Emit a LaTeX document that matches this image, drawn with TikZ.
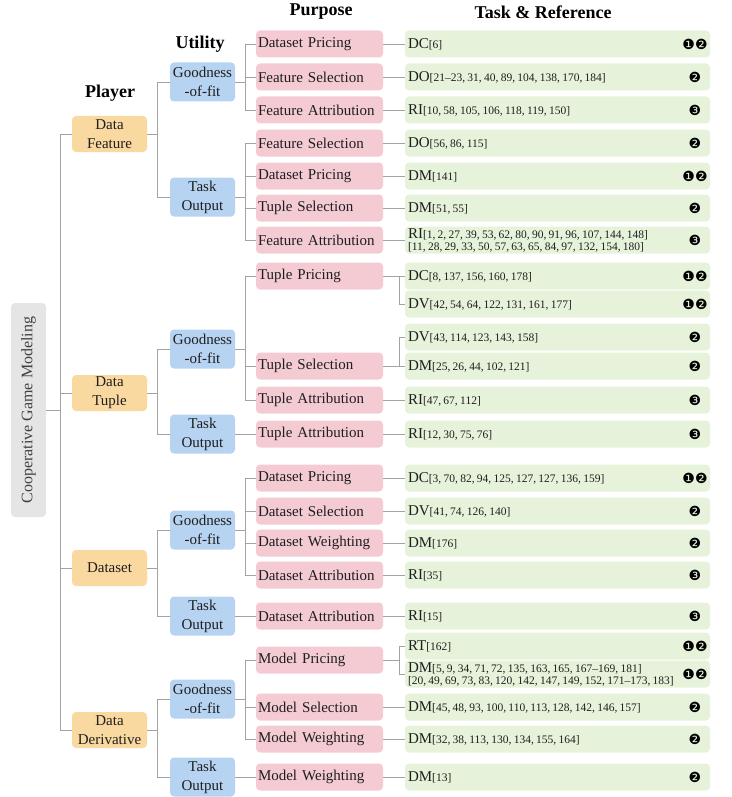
\documentclass[tikz,border=0pt]{standalone}
\usepackage{fontspec}
\setmainfont{Liberation Serif}
\newfontfamily\dingfont{DejaVu Sans}
\usepackage{tikz}
\usetikzlibrary{positioning}
\definecolor{linegray}{HTML}{A3A3A3}
\definecolor{rootfill}{HTML}{E5E5E5}
\definecolor{playerfill}{HTML}{FAD9A1}
\definecolor{utilityfill}{HTML}{B7D3F2}
\definecolor{purposefill}{HTML}{F4CBD3}
\definecolor{taskfill}{HTML}{E6F3DA}
\definecolor{textdark}{HTML}{1E1E1E}
\tikzset{
	link/.style={draw=linegray, line width=0.9pt},
	box/.style={
		rectangle,
		rounded corners=4pt,
		text=textdark,
		inner xsep=2pt,
		inner ysep=0pt,
		outer sep=0pt,
		font=\fontsize{15}{19}\selectfont
	},
	root box/.style={box, fill=rootfill, rotate=90, minimum width=214pt, minimum height=35pt, font=\fontsize{16}{18}\selectfont, text=black!75},
	player box/.style={box, fill=playerfill, align=center, minimum width=75pt, minimum height=36pt},
	utility box/.style={box, fill=utilityfill, align=center, minimum width=65pt, minimum height=39pt},
	purpose box/.style={box, fill=purposefill, anchor=west, align=left, text width=123pt, minimum height=27pt},
	task box/.style={box, fill=taskfill, anchor=west, align=left, inner xsep=3pt, text width=299pt, minimum height=27pt, font=\fontsize{15}{12}\selectfont},
	badge/.style={font=\dingfont\fontsize{14}{14}\selectfont, inner sep=0pt},
	header/.style={font=\fontsize{18}{20}\selectfont\bfseries}
}
\newcommand{\refs}[1]{{\fontsize{11.5}{12}\selectfont\spaceskip=0.2em plus 0.1em[#1]}}
\newcommand{\purposenode}[3]{% name, y, text
	\node[purpose box] (#1) at (256,#2) {#3}
}
\newcommand{\tasknode}[4]{% name, y, text, badges
	\node[task box] (#1) at (405,#2) {#3};
	\node[badge] (#1b) at ([xshift=-15pt]#1.east) {#4}
}
\newcommand{\branch}[4]{% parent, bus, first child, last child
	\draw[link] (#1.east) -- (#1.east -| #2);
	\draw[link] (#3.west) -| (#2 |- #4.west) -- (#4.west)
}

\begin{document}
\begin{tikzpicture}[x=1pt, y=-1pt]
	\useasboundingbox (0,0) rectangle (731,797);
	\coordinate (bus0) at (60,0);
	\coordinate (bus1) at (157,0);
	\coordinate (bus2) at (245,0);
	\coordinate (bus3) at (399,0);

	% column titles
	\node[header] (hPurpose) at (321,12) {Purpose};
	\node[header] (hTask) at (543,12) {Task \& Reference};
	\node[header] (hUtility) at (200,44) {Utility};
	\node[header] (hPlayer) at (110,93) {Player};

	\node[root box] (root) at (28.5,410) {Cooperative Game Modeling};

	% players
	\node[player box] (pFeat) at (109.5,134) {Data\\Feature};
	\node[player box] (pTup) at (109.5,393) {Data\\Tuple};
	\node[player box] (pSet) at (109.5,568) {Dataset};
	\node[player box] (pDer) at (109.5,730) {Data\\Derivative};

	% utilities
	\node[utility box] (uFeatG) at (202.5,82) {Goodness\\-of-fit};
	\node[utility box] (uFeatT) at (202.5,197) {Task\\Output};
	\node[utility box] (uTupG) at (202.5,349) {Goodness\\-of-fit};
	\node[utility box] (uTupT) at (202.5,434) {Task\\Output};
	\node[utility box] (uSetG) at (202.5,530) {Goodness\\-of-fit};
	\node[utility box] (uSetT) at (202.5,616) {Task\\Output};
	\node[utility box] (uDerG) at (202.5,699) {Goodness\\-of-fit};
	\node[utility box] (uDerT) at (202.5,777) {Task\\Output};

	% purposes
	\purposenode{f1}{44}{Dataset Pricing};
	\purposenode{f2}{77}{Feature Selection};
	\purposenode{f3}{110}{Feature Attribution};
	\purposenode{f4}{143}{Feature Selection};
	\purposenode{f5}{176}{Dataset Pricing};
	\purposenode{f6}{208}{Tuple Selection};
	\purposenode{f7}{240}{Feature Attribution};
	\purposenode{t1}{276}{Tuple Pricing};
	\purposenode{t2}{366}{Tuple Selection};
	\purposenode{t3}{400}{Tuple Attribution};
	\purposenode{t4}{434}{Tuple Attribution};
	\purposenode{s1}{478}{Dataset Pricing};
	\purposenode{s2}{511}{Dataset Selection};
	\purposenode{s3}{543}{Dataset Weighting};
	\purposenode{s4}{575}{Dataset Attribution};
	\purposenode{s5}{616}{Dataset Attribution};
	\purposenode{d1}{660}{Model Pricing};
	\purposenode{d2}{707}{Model Selection};
	\purposenode{d3}{739}{Model Weighting};
	\purposenode{d4}{777}{Model Weighting};

	% tasks and references
	\tasknode{r1}{44}{DC\refs{6}}{❶❷};
	\tasknode{r2}{77}{DO\refs{21--23, 31, 40, 89, 104, 138, 170, 184}}{❷};
	\tasknode{r3}{110}{RI\refs{10, 58, 105, 106, 118, 119, 150}}{❸};
	\tasknode{r4}{143}{DO\refs{56, 86, 115}}{❷};
	\tasknode{r5}{176}{DM\refs{141}}{❶❷};
	\tasknode{r6}{208}{DM\refs{51, 55}}{❷};
	\tasknode{r7}{240}{RI\refs{1, 2, 27, 39, 53, 62, 80, 90, 91, 96, 107, 144, 148}\\\refs{11, 28, 29, 33, 50, 57, 63, 65, 84, 97, 132, 154, 180}}{❸};
	\tasknode{r8}{276}{DC\refs{8, 137, 156, 160, 178}}{❶❷};
	\tasknode{r9}{304}{DV\refs{42, 54, 64, 122, 131, 161, 177}}{❶❷};
	\tasknode{r10}{337}{DV\refs{43, 114, 123, 143, 158}}{❷};
	\tasknode{r11}{366}{DM\refs{25, 26, 44, 102, 121}}{❷};
	\tasknode{r12}{400}{RI\refs{47, 67, 112}}{❸};
	\tasknode{r13}{434}{RI\refs{12, 30, 75, 76}}{❸};
	\tasknode{r14}{478}{DC\refs{3, 70, 82, 94, 125, 127, 127, 136, 159}}{❶❷};
	\tasknode{r15}{511}{DV\refs{41, 74, 126, 140}}{❷};
	\tasknode{r16}{543}{DM\refs{176}}{❷};
	\tasknode{r17}{575}{RI\refs{35}}{❸};
	\tasknode{r18}{616}{RI\refs{15}}{❸};
	\tasknode{r19}{646}{RT\refs{162}}{❶❷};
	\tasknode{r20}{674}{DM\refs{5, 9, 34, 71, 72, 135, 163, 165, 167--169, 181}\\\refs{20, 49, 69, 73, 83, 120, 142, 147, 149, 152, 171--173, 183}}{❶❷};
	\tasknode{r21}{707}{DM\refs{45, 48, 93, 100, 110, 113, 128, 142, 146, 157}}{❷};
	\tasknode{r22}{739}{DM\refs{32, 38, 113, 130, 134, 155, 164}}{❷};
	\tasknode{r23}{777}{DM\refs{13}}{❷};

	% root to players
	\draw[link] (root.south) -- (root.south -| bus0);
	\draw[link] (pFeat.west) -| (bus0 |- pDer.west) -- (pDer.west);
	\foreach \p in {pTup, pSet}
		\draw[link] (\p.west) -- (\p.west -| bus0);

	% players to utilities
	\branch{pFeat}{bus1}{uFeatG}{uFeatT};
	\branch{pTup}{bus1}{uTupG}{uTupT};
	\branch{pSet}{bus1}{uSetG}{uSetT};
	\branch{pDer}{bus1}{uDerG}{uDerT};

	% utilities to purposes
	\branch{uFeatG}{bus2}{f1}{f3};
	\branch{uFeatT}{bus2}{f4}{f7};
	\branch{uTupG}{bus2}{t1}{t3};
	\branch{uSetG}{bus2}{s1}{s4};
	\branch{uDerG}{bus2}{d1}{d3};
	\foreach \c in {f2, f5, f6, t2, s2, s3, d2}
		\draw[link] (\c.west) -- (\c.west -| bus2);
	\foreach \u/\c in {uTupT/t4, uSetT/s5, uDerT/d4}
		\draw[link] (\u.east) -- (\c.west);

	% purposes to tasks
	\branch{t1}{bus3}{r8}{r9};
	\branch{t2}{bus3}{r10}{r11};
	\branch{d1}{bus3}{r19}{r20};
	\foreach \c/\r in {f1/r1, f2/r2, f3/r3, f4/r4, f5/r5, f6/r6, f7/r7, t3/r12, t4/r13, s1/r14, s2/r15, s3/r16, s4/r17, s5/r18, d2/r21, d3/r22, d4/r23}
		\draw[link] (\c.east) -- (\r.west);
\end{tikzpicture}
\end{document}
